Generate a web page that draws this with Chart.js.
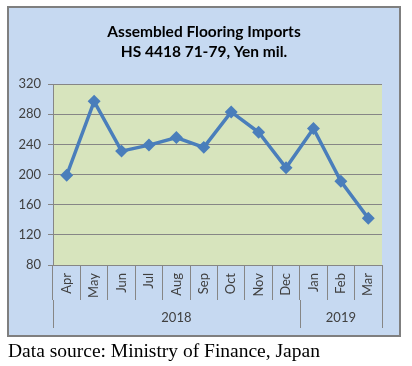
<!DOCTYPE html>
<html>
<head>
<meta charset="utf-8">
<script src="https://cdn.jsdelivr.net/npm/chart.js@4"></script>
<style>
  body { margin: 0; background: #fff; }
  #wrap { position: relative; width: 412px; height: 366px; }
  #source { position: absolute; left: 8px; top: 341px; font-family: "Liberation Serif", "Times New Roman", serif; font-size: 19.5px; line-height: 20px; color: #000; white-space: nowrap; }
</style>
</head>
<body>
<div id="wrap">
  <canvas id="chart1"></canvas>
  <div id="source">Data source: Ministry of Finance, Japan</div>
</div>
<script>
// data
var months = ['Apr','May','Jun','Jul','Aug','Sep','Oct','Nov','Dec','Jan','Feb','Mar'];
var imports = [199, 297, 231, 239, 249, 236, 283, 256, 209, 261, 191, 142];
var years = ['2018','2019'];
var yearSpans = [9, 3];
var titleLines = ['Assembled Flooring Imports', 'HS 4418 71-79, Yen mil.'];

var gridCol = '#868686';
var textCol = '#404040';

// blue chart box, green plot area, year row under the months
var boxPlugin = {
  id: 'box',
  beforeDraw: function(chart){
    var ctx = chart.ctx, a = chart.chartArea;
    ctx.save();
    ctx.fillStyle = '#c6d9f1';
    ctx.fillRect(8, 7, 392, 329);
    ctx.strokeStyle = '#7f7f7f';
    ctx.lineWidth = 2;
    ctx.strokeRect(8, 7, 392, 329);
    ctx.fillStyle = '#d7e4bd';
    ctx.fillRect(a.left, a.top, a.right - a.left, a.bottom - a.top);
    ctx.restore();
  },
  afterDraw: function(chart){
    var ctx = chart.ctx, x = chart.scales.x;
    var half = (x.getPixelForValue(1) - x.getPixelForValue(0)) / 2;
    var y0 = x.top + 35, y1 = 328;
    ctx.save();
    ctx.strokeStyle = gridCol;
    ctx.lineWidth = 1;
    ctx.fillStyle = textCol;
    ctx.font = '13px Lato';
    ctx.textAlign = 'center';
    ctx.textBaseline = 'middle';
    var start = 0;
    for (var i = 0; i < years.length; i++) {
      var l = x.getPixelForValue(start) - half;
      var r = x.getPixelForValue(start + yearSpans[i] - 1) + half;
      ctx.beginPath();
      ctx.moveTo(Math.round(l) + 0.5, y0); ctx.lineTo(Math.round(l) + 0.5, y1);
      ctx.moveTo(Math.round(r) + 0.5, y0); ctx.lineTo(Math.round(r) + 0.5, y1);
      ctx.stroke();
      ctx.fillText(years[i], (l + r) / 2, 318);
      start += yearSpans[i];
    }
    ctx.restore();
  }
};

new Chart(document.querySelector('#chart1'), {
  type: 'line',
  data: {
    labels: months,
    datasets: [{
      data: imports,
      borderColor: '#4a7ebb',
      backgroundColor: '#4a7ebb',
      borderWidth: 3.5,
      pointStyle: 'rectRot',
      pointRadius: 4,
      tension: 0
    }]
  },
  options: {
    responsive: true,
    maintainAspectRatio: false,
    animation: false,
    layout: { padding: { top: 7, left: 8, right: 12, bottom: 38 } },
    plugins: {
      legend: { display: false },
      tooltip: { enabled: false },
      title: {
        display: true,
        text: titleLines,
        color: '#000',
        font: { family: 'Lato', size: 15.5, weight: 'bold', lineHeight: 1.3 },
        padding: { top: 15, bottom: 21.7 }
      }
    },
    scales: {
      x: {
        offset: true,
        grid: { offset: true, drawOnChartArea: false, drawTicks: true, tickLength: 35, color: gridCol },
        border: { color: gridCol },
        ticks: { minRotation: 90, maxRotation: 90, padding: -27, color: textCol, font: { family: 'Lato', size: 13 } },
        afterFit: function(s){ s.height = 63; }
      },
      y: {
        min: 80,
        max: 320,
        ticks: { stepSize: 40, padding: 7, color: textCol, font: { family: 'Lato', size: 13 } },
        grid: { color: gridCol, tickLength: 5 },
        border: { color: gridCol },
        afterFit: function(s){ s.width = 45; }
      },
      yr: {
        position: 'right',
        display: true,
        grid: { display: false },
        border: { display: false },
        ticks: { display: false },
        afterFit: function(s){ s.width = 18; }
      }
    }
  },
  plugins: [boxPlugin]
});
</script>
</body>
</html>
